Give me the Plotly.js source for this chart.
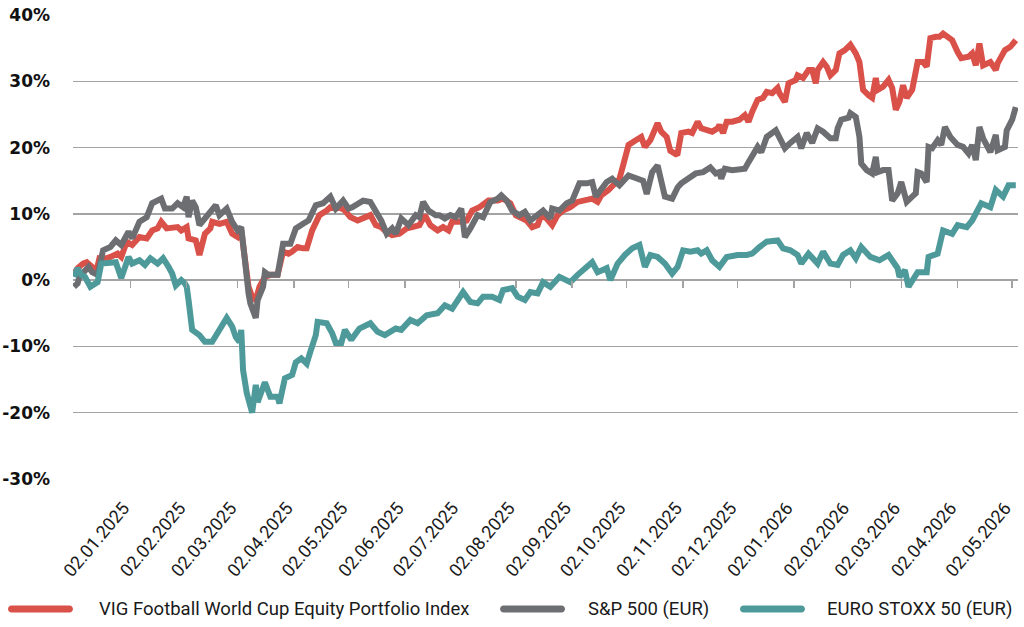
<!DOCTYPE html>
<html>
<head>
<meta charset="utf-8">
<script src="https://cdn.plot.ly/plotly-3.0.1.min.js"></script>
<style>
  html, body { margin: 0; padding: 0; background: #ffffff; }
  #chart { width: 1024px; height: 627px; }
</style>
</head>
<body>
<div id="chart"></div>
<script>
// Cumulative performance since the start date, in percent

const seriesNames = [
  'VIG Football World Cup Equity Portfolio Index',
  'S&P 500 (EUR)',
  'EURO STOXX 50 (EUR)'
];

const vigDates = [
  '2024-12-02','2024-12-04','2024-12-07','2024-12-09','2024-12-12','2024-12-14','2024-12-16','2024-12-19','2024-12-22','2024-12-26',
  '2024-12-28','2024-12-31','2025-01-03','2025-01-07','2025-01-11','2025-01-14','2025-01-17','2025-01-19','2025-01-22','2025-01-25',
  '2025-01-28','2025-01-30','2025-02-02','2025-02-03','2025-02-07','2025-02-09','2025-02-12','2025-02-15','2025-02-16','2025-02-20',
  '2025-02-24','2025-02-27','2025-03-02','2025-03-04','2025-03-06','2025-03-08','2025-03-10','2025-03-12','2025-03-14','2025-03-17',
  '2025-03-20','2025-03-24','2025-03-27','2025-03-30','2025-04-01','2025-04-04','2025-04-07','2025-04-09','2025-04-12','2025-04-16',
  '2025-04-20','2025-04-22','2025-04-25','2025-04-27','2025-04-30','2025-05-03','2025-05-07','2025-05-10','2025-05-14','2025-05-17',
  '2025-05-20','2025-05-23','2025-05-26','2025-05-30','2025-06-03','2025-06-06','2025-06-10','2025-06-13','2025-06-16','2025-06-20',
  '2025-06-23','2025-06-26','2025-06-28','2025-07-02','2025-07-06','2025-07-09','2025-07-13','2025-07-18','2025-07-23','2025-07-26',
  '2025-07-30','2025-08-02','2025-08-05','2025-08-08','2025-08-11','2025-08-14','2025-08-16','2025-08-19','2025-08-22','2025-08-25',
  '2025-08-28','2025-09-01','2025-09-05','2025-09-09','2025-09-13','2025-09-16','2025-09-18','2025-09-22','2025-09-26','2025-09-28',
  '2025-09-30','2025-10-03','2025-10-07','2025-10-10','2025-10-12','2025-10-15','2025-10-19','2025-10-21','2025-10-24','2025-10-26',
  '2025-10-29','2025-10-30','2025-11-01','2025-11-05','2025-11-07','2025-11-10','2025-11-12','2025-11-15','2025-11-18','2025-11-21',
  '2025-11-22','2025-11-24','2025-11-26','2025-11-29','2025-12-03','2025-12-06','2025-12-08','2025-12-10','2025-12-13','2025-12-16',
  '2025-12-18','2025-12-21','2025-12-24','2025-12-25','2025-12-28','2025-12-30','2026-01-03','2026-01-04','2026-01-07','2026-01-10',
  '2026-01-12','2026-01-14','2026-01-15','2026-01-18','2026-01-20','2026-01-22','2026-01-25','2026-01-27','2026-01-30','2026-02-02',
  '2026-02-05','2026-02-07','2026-02-09','2026-02-12','2026-02-14','2026-02-16','2026-02-17','2026-02-20','2026-02-23','2026-02-25',
  '2026-02-27','2026-03-01','2026-03-03','2026-03-05','2026-03-08','2026-03-11','2026-03-14','2026-03-16','2026-03-18','2026-03-21',
  '2026-03-23','2026-03-25','2026-03-28','2026-03-30','2026-04-02','2026-04-04','2026-04-08','2026-04-10','2026-04-12','2026-04-14',
  '2026-04-16','2026-04-20','2026-04-23','2026-04-24','2026-04-28','2026-05-01','2026-05-04'
];
const vigValues = [
  1.0, 1.8, 2.5, 2.7, 2.0, 1.0, 3.3, 3.2, 3.5, 4.0,
  3.5, 5.8, 5.3, 6.5, 6.3, 7.5, 7.8, 8.8, 7.8, 8.0,
  8.0, 7.5, 8.0, 6.3, 6.0, 3.8, 7.0, 7.8, 8.8, 8.5,
  8.8, 7.0, 6.5, 7.5, 3.0, -1.0, -2.5, -3.0, -1.0, 0.5,
  0.8, 0.8, 4.3, 4.0, 4.3, 5.0, 4.8, 4.8, 7.5, 9.8,
  10.5, 11.0, 10.8, 11.0, 10.5, 9.5, 9.0, 9.3, 9.8, 8.3,
  8.0, 7.2, 6.8, 7.0, 7.8, 8.0, 8.3, 9.8, 8.3, 7.5,
  8.0, 7.5, 8.8, 8.8, 9.0, 10.5, 11.0, 12.0, 12.0, 12.3,
  11.6, 9.8, 9.3, 9.0, 8.0, 8.3, 9.8, 9.3, 8.3, 9.8,
  10.5, 11.0, 11.8, 12.0, 12.3, 11.8, 12.8, 13.6, 14.6, 15.3,
  17.3, 20.4, 21.1, 21.6, 20.1, 21.1, 23.7, 22.4, 21.6, 19.5,
  19.0, 19.1, 22.2, 22.4, 22.2, 23.9, 22.9, 22.6, 22.4, 22.9,
  23.4, 22.2, 23.9, 23.9, 24.2, 24.9, 23.9, 25.4, 27.2, 27.5,
  28.4, 28.2, 29.0, 28.2, 26.9, 29.7, 30.2, 30.9, 30.5, 31.7,
  31.7, 29.7, 31.7, 32.9, 32.2, 30.9, 31.7, 34.2, 34.7, 35.5,
  34.2, 32.9, 28.7, 27.9, 27.5, 30.5, 28.7, 29.2, 30.2, 29.0,
  25.7, 26.9, 29.4, 27.5, 28.7, 32.9, 32.9, 32.2, 36.5, 36.7,
  36.7, 37.2, 36.5, 36.2, 34.4, 33.5, 33.7, 34.2, 32.4, 35.7,
  32.4, 32.9, 31.7, 32.7, 34.7, 35.2, 36.2
];

const spxDates = [
  '2024-12-02','2024-12-04','2024-12-05','2024-12-08','2024-12-10','2024-12-12','2024-12-15','2024-12-18','2024-12-22','2024-12-25',
  '2024-12-28','2025-01-01','2025-01-03','2025-01-07','2025-01-11','2025-01-14','2025-01-17','2025-01-19','2025-01-21','2025-01-25',
  '2025-01-28','2025-01-31','2025-02-02','2025-02-03','2025-02-05','2025-02-07','2025-02-09','2025-02-13','2025-02-18','2025-02-20',
  '2025-02-24','2025-02-27','2025-03-02','2025-03-04','2025-03-06','2025-03-08','2025-03-09','2025-03-12','2025-03-13','2025-03-16',
  '2025-03-17','2025-03-19','2025-03-24','2025-03-27','2025-03-31','2025-04-03','2025-04-07','2025-04-10','2025-04-14','2025-04-18',
  '2025-04-22','2025-04-25','2025-04-29','2025-05-02','2025-05-04','2025-05-10','2025-05-14','2025-05-18','2025-05-20','2025-05-23',
  '2025-05-26','2025-05-28','2025-05-31','2025-06-04','2025-06-08','2025-06-10','2025-06-12','2025-06-15','2025-06-19','2025-06-21',
  '2025-06-24','2025-06-27','2025-06-30','2025-07-03','2025-07-05','2025-07-08','2025-07-12','2025-07-15','2025-07-19','2025-07-23',
  '2025-07-25','2025-07-28','2025-07-31','2025-08-04','2025-08-07','2025-08-10','2025-08-14','2025-08-17','2025-08-21','2025-08-22',
  '2025-08-26','2025-08-30','2025-09-02','2025-09-06','2025-09-10','2025-09-13','2025-09-15','2025-09-17','2025-09-21','2025-09-24',
  '2025-09-28','2025-10-03','2025-10-08','2025-10-11','2025-10-13','2025-10-16','2025-10-19','2025-10-21','2025-10-23','2025-10-27',
  '2025-10-30','2025-11-01','2025-11-05','2025-11-09','2025-11-13','2025-11-17','2025-11-20','2025-11-22','2025-11-23','2025-11-25',
  '2025-11-29','2025-12-03','2025-12-06','2025-12-08','2025-12-10','2025-12-13','2025-12-15','2025-12-18','2025-12-23','2025-12-25',
  '2025-12-28','2025-12-31','2026-01-04','2026-01-06','2026-01-09','2026-01-12','2026-01-15','2026-01-18','2026-01-22','2026-01-25',
  '2026-01-26','2026-01-28','2026-02-01','2026-02-02','2026-02-05','2026-02-07','2026-02-08','2026-02-11','2026-02-14','2026-02-16',
  '2026-02-17','2026-02-20','2026-02-23','2026-02-25','2026-02-28','2026-03-02','2026-03-05','2026-03-08','2026-03-10','2026-03-11',
  '2026-03-13','2026-03-16','2026-03-17','2026-03-19','2026-03-22','2026-03-24','2026-03-26','2026-03-29','2026-04-02','2026-04-05',
  '2026-04-08','2026-04-10','2026-04-12','2026-04-14','2026-04-16','2026-04-20','2026-04-23','2026-04-24','2026-04-28','2026-04-29',
  '2026-05-02','2026-05-04'
];
const spxValues = [
  -1.0, -0.5, 0.5, 1.5, 2.0, 1.2, 0.8, 4.5, 5.0, 6.0,
  5.3, 7.3, 6.3, 8.8, 9.5, 11.6, 12.0, 12.3, 10.8, 10.8,
  11.6, 11.0, 12.6, 9.5, 12.0, 11.0, 8.3, 9.8, 11.3, 9.8,
  10.8, 8.8, 7.5, 8.0, 2.0, -2.0, -3.5, -5.7, -3.0, -1.0,
  1.2, 0.8, 0.8, 5.5, 5.5, 7.8, 8.5, 9.0, 11.3, 11.6,
  12.6, 10.8, 12.0, 10.8, 11.0, 12.0, 11.8, 9.8, 9.0, 7.0,
  7.8, 7.0, 9.3, 8.3, 9.8, 9.5, 11.8, 10.5, 9.8, 9.8,
  9.3, 9.8, 9.5, 10.8, 6.5, 7.8, 9.8, 9.5, 11.8, 12.3,
  12.8, 12.0, 10.5, 9.8, 10.3, 9.0, 9.8, 10.5, 9.3, 10.8,
  10.5, 11.6, 12.0, 14.6, 14.6, 14.8, 12.6, 13.3, 14.8, 15.3,
  14.3, 15.8, 15.3, 15.0, 13.0, 16.3, 17.3, 14.8, 12.6, 12.3,
  14.0, 14.6, 15.3, 16.1, 16.3, 17.0, 16.1, 16.3, 15.3, 16.8,
  16.6, 16.8, 16.8, 17.8, 18.9, 20.1, 19.3, 21.6, 22.6, 21.6,
  19.9, 20.7, 21.6, 19.9, 22.2, 20.7, 22.9, 22.4, 21.4, 21.4,
  22.9, 24.2, 24.5, 25.2, 24.6, 21.6, 17.6, 16.6, 16.1, 18.6,
  16.3, 16.6, 16.6, 12.0, 13.1, 14.8, 11.8, 12.6, 13.1, 16.3,
  16.1, 14.8, 20.1, 19.9, 21.1, 20.4, 23.1, 21.6, 20.4, 20.1,
  19.1, 20.4, 18.1, 23.1, 21.4, 19.3, 21.9, 19.6, 20.1, 22.6,
  24.2, 26.1
];

const sx5eDates = [
  '2024-12-02','2024-12-04','2024-12-06','2024-12-08','2024-12-11','2024-12-15','2024-12-17','2024-12-22','2024-12-25','2024-12-28',
  '2025-01-01','2025-01-03','2025-01-07','2025-01-10','2025-01-13','2025-01-17','2025-01-20','2025-01-23','2025-01-25','2025-01-27',
  '2025-01-30','2025-02-01','2025-02-02','2025-02-03','2025-02-04','2025-02-05','2025-02-09','2025-02-12','2025-02-16','2025-02-19',
  '2025-02-24','2025-02-27','2025-03-01','2025-03-03','2025-03-04','2025-03-05','2025-03-07','2025-03-10','2025-03-12','2025-03-13',
  '2025-03-17','2025-03-20','2025-03-24','2025-03-25','2025-03-28','2025-04-01','2025-04-03','2025-04-06','2025-04-09','2025-04-11',
  '2025-04-14','2025-04-15','2025-04-20','2025-04-23','2025-04-25','2025-04-28','2025-04-30','2025-05-03','2025-05-04','2025-05-08',
  '2025-05-14','2025-05-18','2025-05-22','2025-05-28','2025-05-31','2025-06-05','2025-06-09','2025-06-14','2025-06-20','2025-06-24',
  '2025-06-28','2025-07-04','2025-07-08','2025-07-12','2025-07-15','2025-07-20','2025-07-24','2025-07-26','2025-07-31','2025-08-03',
  '2025-08-07','2025-08-10','2025-08-14','2025-08-17','2025-08-21','2025-08-26','2025-09-01','2025-09-05','2025-09-10','2025-09-13',
  '2025-09-16','2025-09-21','2025-09-23','2025-09-27','2025-10-01','2025-10-05','2025-10-09','2025-10-12','2025-10-15','2025-10-19',
  '2025-10-23','2025-10-26','2025-10-27','2025-10-30','2025-11-02','2025-11-06','2025-11-10','2025-11-12','2025-11-15','2025-11-18',
  '2025-11-22','2025-11-26','2025-12-02','2025-12-07','2025-12-10','2025-12-14','2025-12-18','2025-12-24','2025-12-27','2025-12-31',
  '2026-01-04','2026-01-06','2026-01-10','2026-01-15','2026-01-18','2026-01-22','2026-01-26','2026-01-29','2026-02-02','2026-02-05',
  '2026-02-08','2026-02-13','2026-02-18','2026-02-23','2026-02-28','2026-03-01','2026-03-04','2026-03-06','2026-03-10','2026-03-11',
  '2026-03-16','2026-03-17','2026-03-22','2026-03-25','2026-03-30','2026-04-02','2026-04-07','2026-04-10','2026-04-15','2026-04-20',
  '2026-04-23','2026-04-27','2026-04-30','2026-05-04'
];
const sx5eValues = [
  0.5, 1.8, 0.8, 0.5, -1.0, -0.3, 2.5, 2.5, 2.7, 0.3,
  3.5, 2.5, 3.0, 2.3, 3.3, 2.5, 3.3, 2.0, 1.0, -0.8,
  0.0, -0.5, -1.0, -3.0, -5.0, -7.5, -8.3, -9.3, -9.3, -8.0,
  -5.7, -7.0, -8.6, -9.3, -7.5, -13.6, -17.0, -20.0, -15.8, -18.4,
  -15.4, -17.6, -17.6, -18.6, -14.8, -14.3, -12.4, -11.8, -12.6, -10.8,
  -8.3, -6.3, -6.5, -8.0, -9.5, -9.5, -7.5, -8.8, -8.8, -7.3,
  -6.5, -7.8, -8.3, -7.3, -7.5, -6.0, -6.5, -5.3, -5.0, -3.8,
  -4.3, -1.8, -3.3, -3.5, -2.5, -2.5, -3.0, -1.5, -1.2, -2.5,
  -3.0, -1.8, -2.0, -0.3, -1.0, 0.5, -0.3, 0.8, 2.0, 2.7,
  1.2, 1.8, 0.0, 2.5, 3.8, 4.8, 5.3, 2.0, 3.8, 3.5,
  2.5, 1.2, 1.0, 2.0, 4.5, 4.3, 4.5, 4.0, 4.5, 3.0,
  2.0, 3.5, 3.8, 3.8, 4.0, 5.0, 5.8, 6.0, 4.8, 4.5,
  3.8, 2.5, 4.0, 2.5, 4.3, 2.5, 2.3, 3.8, 4.5, 3.3,
  5.0, 3.5, 3.0, 3.8, 1.8, 0.5, 1.5, -1.0, 1.0, 1.2,
  1.2, 3.5, 4.0, 7.5, 7.0, 8.3, 8.0, 9.0, 11.6, 11.0,
  13.6, 12.6, 14.3, 14.3
];

// Month markers along the time axis
const monthTicks = [
  '2025-01-02','2025-02-02','2025-03-02','2025-04-02','2025-05-02','2025-06-02',
  '2025-07-02','2025-08-02','2025-09-02','2025-10-02','2025-11-02','2025-12-02',
  '2026-01-02','2026-02-02','2026-03-02','2026-04-02','2026-05-02'
];
const yTicks = [-30, -20, -10, 0, 10, 20, 30, 40];
const yTickLabels = ['-30%', '-20%', '-10%', '0%', '10%', '20%', '30%', '40%'];

const colors = ['#DA514A', '#6D6E71', '#4E9A9B'];
const xRange = ['2024-12-01 11:00', '2026-05-05 05:00'];

function lineTrace(x, y, name, color) {
  return {
    type: 'scatter', mode: 'lines', x: x, y: y, name: name,
    line: { color: color, width: 6, shape: 'linear' },
    hoverinfo: 'x+y+name'
  };
}

const traces = [
  lineTrace(vigDates, vigValues, seriesNames[0], colors[0]),
  lineTrace(spxDates, spxValues, seriesNames[1], colors[1]),
  lineTrace(sx5eDates, sx5eValues, seriesNames[2], colors[2]),
  // carrier for the tick marks that sit on the 0% line
  { type: 'scatter', mode: 'lines', x: [vigDates[0]], y: [null], xaxis: 'x2',
    showlegend: false, hoverinfo: 'skip' }
];

// Legend row below the axis: rounded swatch + label for each series
const legendFont = { family: 'Roboto, sans-serif', size: 18.5, color: '#1a1a1a' };
const legendY = -0.2802;
const swatchX = [-0.0688, 0.4519, 0.7058];
const labelX = [0.0250, 0.5430, 0.7960];
const swatchPath = 'M3.5,-3.5 L61.5,-3.5 C63.4,-3.5 65,-1.9 65,0 C65,1.9 63.4,3.5 61.5,3.5 ' +
                   'L3.5,3.5 C1.6,3.5 0,1.9 0,0 C0,-1.9 1.6,-3.5 3.5,-3.5 Z';

const shapes = seriesNames.map((n, i) => ({
  type: 'path', xref: 'paper', yref: 'paper',
  xsizemode: 'pixel', ysizemode: 'pixel',
  xanchor: swatchX[i], yanchor: legendY,
  path: swatchPath, fillcolor: colors[i], line: { width: 0 }
}));

const annotations = seriesNames.map((n, i) => ({
  xref: 'paper', yref: 'paper', x: labelX[i], y: legendY,
  xanchor: 'left', yanchor: 'middle', showarrow: false,
  text: n, font: legendFont
}));

const layout = {
  width: 1024, height: 627,
  margin: { l: 73, r: 6, t: 15, b: 148 },
  paper_bgcolor: '#ffffff', plot_bgcolor: '#ffffff',
  showlegend: false,
  shapes: shapes,
  annotations: annotations,
  xaxis: {
    type: 'date', range: xRange,
    tickvals: monthTicks, tickformat: '%d.%m.%Y', tickangle: -50,
    ticks: '', showgrid: false, zeroline: false, showline: false,
    ticklabelstandoff: 14, ticklabelshift: -7,
    tickfont: { family: 'Roboto, sans-serif', size: 18, color: '#1a1a1a' }
  },
  xaxis2: {
    type: 'date', range: xRange, overlaying: 'x', anchor: 'free',
    position: 30 / 70, side: 'bottom',
    tickvals: monthTicks, ticks: 'outside', ticklen: 7, tickwidth: 1.5,
    tickcolor: '#a3a3a3', showticklabels: false, showgrid: false,
    zeroline: false, showline: false
  },
  yaxis: {
    range: [-30, 40], tickvals: yTicks, ticktext: yTickLabels,
    showgrid: true, gridcolor: '#a3a3a3', gridwidth: 1.5,
    zeroline: false, showline: false, ticks: '',
    ticklabelstandoff: 22,
    tickfont: { family: 'DejaVu Sans, sans-serif', size: 17, color: '#111111', weight: 'bold' }
  }
};

Plotly.newPlot('chart', traces, layout, { displayModeBar: false, staticPlot: true });
</script>
</body>
</html>
